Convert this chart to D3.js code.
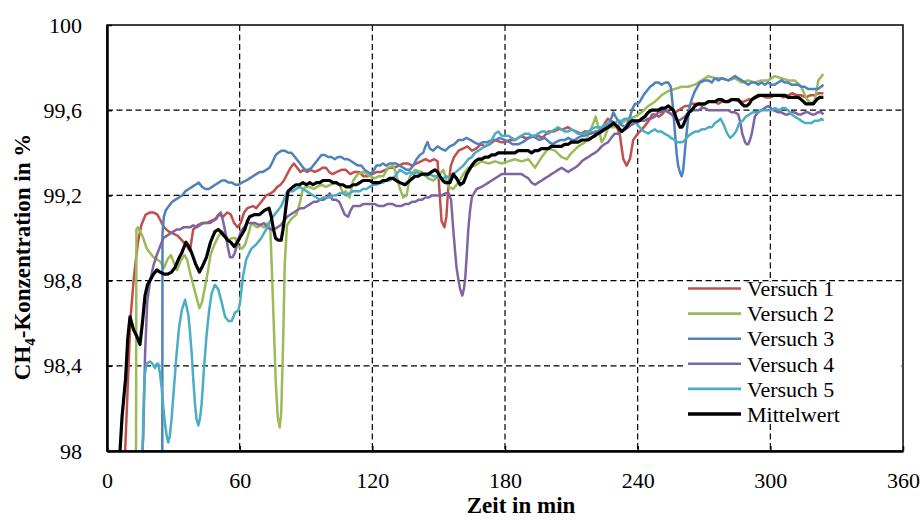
<!DOCTYPE html>
<html>
<head>
<meta charset="utf-8">
<script src="https://cdn.jsdelivr.net/npm/d3@7"></script>
<style>
  body { margin: 0; background: #fff; }
  svg text { font-family: "Liberation Serif", "Times New Roman", serif !important; fill: #000; }
</style>
</head>
<body>
<div id="chart"></div>
<script>
// time in min, CH4 concentration in %
const versuch1 = [[7.8,97.9],[8.6,98.1],[9.4,98.31],[10.6,98.62],[12.2,98.82],[14,98.98],[15.5,99.06],[17.5,99.11],[19.5,99.12],[21,99.12],[22.8,99.11],[24.3,99.08],[25.8,99.05],[28,99.03],[30,99.02],[32,99.01],[33.8,98.99],[35.5,98.97],[37.5,98.94],[39,99.04],[41,99.06],[43,99.07],[45,99.07],[47,99.08],[49,99.09],[50.5,99.11],[52.5,99.1],[54.5,99.12],[56,99.11],[57.5,99.07],[59,99.05],[60.5,99.07],[62,99.12],[63.5,99.14],[66,99.15],[67.5,99.14],[69,99.16],[70.5,99.18],[72,99.2],[74,99.21],[75.5,99.22],[77,99.24],[78.5,99.25],[80,99.27],[81.5,99.3],[83,99.33],[84.5,99.35],[86,99.33],[87.5,99.31],[89,99.32],[90.5,99.31],[92,99.32],[94,99.31],[96,99.32],[97.5,99.33],[99,99.33],[100.5,99.31],[102,99.3],[104,99.31],[106,99.32],[108,99.32],[110,99.3],[112,99.31],[114,99.31],[116,99.29],[118,99.29],[120,99.3],[122,99.31],[124,99.31],[126,99.32],[128,99.33],[130,99.33],[132,99.34],[134,99.35],[136,99.35],[138,99.34],[140,99.35],[142,99.36],[144,99.37],[146,99.36],[148,99.37],[149.5,99.36],[150.5,99.2],[151.3,99.08],[152.6,99.05],[153.5,99.1],[154.3,99.23],[155.5,99.34],[157,99.38],[159,99.41],[161,99.42],[163,99.43],[165,99.41],[167,99.42],[169,99.44],[171,99.43],[173,99.44],[175.5,99.46],[178,99.45],[180,99.45],[182,99.46],[184.5,99.46],[186,99.47],[187.5,99.48],[189,99.47],[191,99.47],[193.5,99.48],[195,99.48],[197,99.47],[199.5,99.5],[202,99.5],[204,99.51],[206,99.51],[208.5,99.52],[210,99.51],[212,99.5],[214.5,99.49],[216,99.5],[218,99.5],[220.5,99.49],[222,99.5],[224,99.52],[226.5,99.56],[228,99.55],[229.7,99.54],[231,99.51],[232,99.48],[233.5,99.37],[235,99.34],[236.5,99.37],[238,99.46],[240,99.49],[242,99.51],[243.5,99.53],[245,99.55],[246.5,99.58],[248,99.58],[249.5,99.57],[251,99.58],[252.5,99.6],[254,99.59],[255.5,99.58],[257,99.59],[258.5,99.6],[260,99.61],[261.5,99.62],[263,99.62],[264.5,99.63],[266,99.63],[267.5,99.63],[269,99.62],[270.5,99.63],[272,99.64],[273.5,99.64],[275,99.64],[276.5,99.63],[278,99.64],[280,99.64],[282,99.65],[284,99.65],[286,99.64],[288,99.64],[290,99.65],[292,99.65],[294,99.66],[296,99.67],[298,99.66],[300,99.66],[302,99.67],[304,99.67],[306,99.66],[308,99.67],[310,99.68],[312,99.67],[314,99.67],[316,99.66],[318,99.67],[320,99.67],[322,99.68],[324,99.68]];

const versuch2 = [[13.1,97.9],[13.3,99.04],[14,99.05],[15,99.03],[16,99.01],[17,98.98],[18,98.95],[19.5,98.93],[21,98.91],[22.5,98.9],[24,98.89],[25.8,98.86],[27.4,98.9],[28.9,98.92],[30.4,98.88],[31.7,98.85],[33.2,98.89],[35,98.92],[36.2,98.9],[37.5,98.84],[39,98.78],[40.5,98.72],[41.8,98.67],[43,98.7],[44.3,98.77],[45.6,98.84],[46.8,98.92],[48.6,98.97],[50.5,99.01],[52,99.03],[53.5,99.02],[55,98.99],[56.5,99.0],[58,99.0],[59.5,98.96],[61,98.95],[62.5,98.97],[64,99.02],[65.3,99.07],[66.5,99.06],[68,99.05],[69.5,99.06],[71,99.05],[72.8,99.07],[73.9,99.04],[75,98.72],[76.3,98.33],[77.2,98.16],[78.1,98.11],[78.8,98.18],[79.6,98.49],[80.4,98.88],[81.4,99.06],[83.4,99.09],[85.6,99.11],[87.1,99.16],[88.6,99.23],[90,99.24],[91.7,99.24],[93.5,99.23],[95,99.24],[97,99.25],[99,99.24],[101,99.25],[103.7,99.26],[105.2,99.25],[106.7,99.21],[108,99.22],[109.7,99.19],[111.3,99.27],[113.5,99.3],[115.8,99.31],[117.5,99.3],[119,99.29],[121,99.28],[123,99.29],[125,99.29],[127,99.33],[129.4,99.34],[130.5,99.31],[132.5,99.23],[134,99.19],[135.5,99.2],[137,99.29],[139.3,99.32],[142.3,99.31],[145.3,99.28],[147.6,99.27],[149.9,99.29],[152.1,99.32],[154.4,99.24],[156.6,99.23],[158.9,99.26],[161.2,99.3],[163.4,99.33],[166.4,99.34],[169.4,99.36],[172.5,99.35],[175.5,99.36],[178.5,99.35],[181.5,99.36],[184.5,99.37],[187.5,99.36],[190.6,99.37],[193.6,99.33],[196.6,99.38],[199.6,99.42],[202.6,99.41],[205.6,99.38],[207.9,99.37],[210.1,99.4],[213.2,99.43],[216.2,99.45],[218.4,99.5],[220,99.54],[221,99.57],[222.2,99.52],[223.7,99.45],[225,99.47],[226.7,99.52],[229.7,99.52],[232.8,99.54],[235.8,99.56],[238.8,99.57],[241.8,99.59],[244.8,99.62],[247.8,99.64],[250.8,99.67],[253.9,99.69],[256.9,99.7],[259.9,99.71],[262.9,99.71],[265.9,99.72],[269,99.74],[272,99.76],[275,99.75],[278,99.75],[281,99.74],[284,99.75],[287,99.73],[290,99.74],[293,99.73],[296,99.74],[299,99.74],[302,99.76],[305,99.75],[308,99.74],[311,99.74],[314,99.71],[316.5,99.65],[318.7,99.63],[320.2,99.65],[321.7,99.74],[323.2,99.76],[324,99.77]];

const versuch3 = [[25,97.9],[25.1,99.02],[25.7,99.1],[26.6,99.13],[28,99.15],[29.5,99.17],[31,99.18],[32.5,99.19],[34,99.2],[35.5,99.22],[37,99.23],[38.5,99.24],[40,99.25],[41.5,99.26],[43,99.24],[44.5,99.23],[46,99.23],[47.5,99.24],[49,99.25],[50.5,99.26],[52,99.27],[53.5,99.27],[55,99.26],[56.5,99.26],[58,99.25],[59.5,99.25],[61,99.26],[63,99.27],[64.5,99.28],[66,99.29],[67.5,99.3],[69,99.31],[70.5,99.31],[72,99.32],[73.5,99.33],[75,99.36],[76.3,99.39],[77.5,99.4],[79,99.41],[80.4,99.41],[82,99.4],[83.4,99.4],[85,99.38],[86.5,99.36],[88,99.34],[89.5,99.32],[91,99.32],[92.5,99.33],[94,99.35],[95.5,99.37],[97,99.39],[98.5,99.39],[100,99.38],[101.5,99.38],[103,99.37],[104.5,99.38],[106,99.38],[107.5,99.37],[109,99.37],[110.5,99.36],[112,99.35],[113.5,99.34],[115,99.34],[116.5,99.32],[118,99.31],[119.6,99.3],[120.8,99.32],[121.8,99.34],[123.3,99.34],[124.8,99.35],[126.3,99.34],[127.8,99.35],[129.3,99.35],[130.8,99.35],[132.4,99.34],[134,99.33],[135.5,99.32],[137,99.32],[138.5,99.34],[140,99.37],[141.5,99.39],[143,99.4],[144,99.43],[145,99.45],[146,99.42],[147.5,99.41],[149.5,99.43],[151,99.42],[153,99.41],[155,99.43],[157,99.44],[159,99.46],[161,99.46],[162.5,99.47],[164.5,99.46],[166,99.45],[168,99.44],[170,99.45],[172,99.45],[174,99.46],[176,99.46],[177.5,99.47],[180,99.46],[182,99.45],[183.5,99.44],[186,99.44],[188,99.45],[189.5,99.46],[192,99.48],[194,99.47],[195.5,99.46],[198,99.47],[200,99.45],[201.5,99.44],[203,99.45],[205,99.46],[207,99.46],[208.6,99.47],[210,99.46],[211.6,99.46],[213,99.47],[214.7,99.48],[216,99.48],[217.7,99.49],[219,99.49],[220.7,99.5],[222,99.5],[223.7,99.51],[225,99.52],[226.7,99.53],[228,99.56],[229,99.59],[230,99.57],[231.2,99.55],[232.8,99.53],[234.3,99.52],[235.5,99.54],[236.5,99.57],[237.8,99.61],[238.8,99.63],[240,99.63],[241,99.64],[242.6,99.67],[244.1,99.69],[245.6,99.71],[247,99.72],[248,99.73],[249.5,99.73],[250.8,99.72],[252.5,99.73],[253.9,99.73],[255,99.71],[256.1,99.6],[256.9,99.49],[257.6,99.4],[258.3,99.34],[259.1,99.31],[259.9,99.29],[260.6,99.32],[261.2,99.39],[261.8,99.46],[262.9,99.57],[263.6,99.62],[264.4,99.65],[265.9,99.69],[267,99.71],[268.2,99.73],[270.4,99.74],[272,99.74],[273.5,99.73],[275,99.75],[276.5,99.74],[278,99.75],[281,99.74],[282.5,99.75],[284,99.76],[285.5,99.75],[287,99.74],[288.5,99.73],[290,99.72],[291.5,99.73],[293,99.73],[294.5,99.72],[296,99.73],[297.5,99.72],[299,99.73],[300.5,99.72],[302,99.72],[303.5,99.73],[305,99.74],[306.5,99.73],[308,99.73],[309.5,99.72],[311,99.72],[312.5,99.72],[314,99.71],[315.5,99.71],[317,99.7],[318.5,99.7],[320,99.7],[321.5,99.7],[323,99.71],[324,99.72]];

const versuch4 = [[15.5,97.9],[16.4,98.07],[17.2,98.45],[18.2,98.7],[19.5,98.8],[21,98.87],[22.5,98.92],[24,98.96],[25.5,99.0],[27,99.01],[28.5,99.02],[30,99.03],[31.5,99.04],[33,99.04],[34.5,99.05],[36,99.05],[37.5,99.05],[39,99.06],[40.5,99.05],[42,99.06],[43.5,99.07],[45,99.07],[46.5,99.07],[48,99.08],[49.5,99.09],[50.5,99.11],[51.5,99.12],[52.5,99.08],[53.5,99.03],[54.6,98.96],[55.6,98.91],[56.8,98.91],[57.8,98.93],[59.3,98.99],[60.5,99.03],[62,99.05],[63.5,99.07],[65,99.07],[67,99.07],[69,99.06],[71,99.07],[72.5,99.05],[74,99.04],[75.5,99.04],[77,99.05],[78.5,99.06],[80,99.08],[81.5,99.1],[83,99.11],[84.5,99.12],[86,99.13],[87.5,99.14],[89,99.14],[90.5,99.15],[92,99.16],[93.5,99.17],[95,99.17],[96.5,99.18],[98,99.18],[99.5,99.19],[100.7,99.21],[102,99.18],[103.5,99.18],[105,99.17],[106.3,99.14],[107.5,99.11],[109,99.1],[110.2,99.13],[111.3,99.15],[113,99.15],[114.5,99.15],[116,99.16],[117.5,99.16],[119,99.16],[121,99.16],[123,99.15],[125,99.15],[127,99.16],[129,99.16],[131,99.15],[133,99.15],[135,99.16],[136.5,99.16],[138,99.17],[139.5,99.17],[141,99.18],[142.5,99.18],[144,99.19],[145.5,99.19],[147,99.2],[148.5,99.2],[150,99.2],[151.5,99.2],[153,99.21],[154.5,99.21],[155.6,99.18],[156.6,99.04],[157.4,98.94],[158.1,98.86],[159,98.8],[159.7,98.76],[160.7,98.73],[161.4,98.76],[162,98.81],[162.7,98.92],[163.4,99.04],[164.2,99.13],[165,99.19],[166,99.21],[167.2,99.23],[169.4,99.24],[171,99.25],[172.5,99.26],[174,99.27],[175.5,99.28],[177,99.29],[178.5,99.3],[180,99.3],[181.5,99.3],[183,99.3],[184.5,99.3],[186,99.3],[187.5,99.3],[189,99.29],[190.6,99.28],[192,99.26],[193.6,99.25],[195,99.26],[196.6,99.27],[198,99.28],[199.6,99.29],[201,99.3],[202.6,99.31],[204,99.32],[205.6,99.33],[207,99.32],[208.6,99.31],[210,99.32],[211.6,99.33],[213,99.34],[214.7,99.36],[216,99.37],[217.7,99.38],[219,99.39],[220.7,99.4],[222,99.41],[223.7,99.43],[225,99.44],[226.7,99.45],[228,99.47],[229.7,99.49],[231,99.49],[232.8,99.5],[234,99.51],[235.8,99.52],[237,99.53],[238.8,99.54],[240,99.55],[241.8,99.55],[243,99.55],[244.8,99.56],[246,99.56],[247.8,99.57],[249.3,99.59],[250.8,99.59],[252.4,99.6],[254,99.59],[255.4,99.58],[257,99.56],[258.4,99.55],[260,99.56],[261.4,99.57],[263,99.59],[264.4,99.6],[266,99.6],[267.4,99.6],[269,99.61],[270.4,99.61],[272,99.6],[273.5,99.6],[275,99.6],[276.5,99.6],[278,99.6],[279.5,99.6],[281,99.6],[282.5,99.59],[284,99.59],[285.5,99.58],[286.5,99.54],[287.3,99.49],[288.6,99.45],[289.3,99.44],[290,99.44],[290.8,99.46],[291.6,99.49],[292.3,99.53],[293,99.57],[294.5,99.59],[296,99.6],[297.5,99.61],[299,99.62],[300.2,99.61],[301.4,99.6],[303.6,99.59],[305,99.59],[306.7,99.58],[308,99.58],[309.7,99.59],[311,99.59],[312.7,99.58],[314,99.58],[315.7,99.59],[317,99.59],[318.7,99.58],[320,99.58],[321.5,99.59],[323.2,99.59],[324,99.58]];

const versuch5 = [[15.9,97.9],[16.4,98.15],[17,98.35],[17.9,98.41],[19.4,98.42],[20.5,98.41],[21.7,98.39],[22.5,98.41],[23.2,98.41],[24,98.36],[24.7,98.3],[25.5,98.2],[26.2,98.13],[27,98.07],[27.7,98.04],[28.4,98.07],[29.2,98.15],[30.3,98.3],[31.5,98.46],[32.6,98.58],[33.8,98.66],[35.3,98.71],[36.8,98.64],[37.6,98.55],[38.3,98.46],[39,98.34],[39.8,98.22],[40.5,98.15],[41.3,98.12],[42,98.15],[42.8,98.22],[43.8,98.38],[45,98.54],[46.2,98.66],[47.3,98.74],[48.8,98.78],[50.3,98.76],[51.8,98.7],[53.4,98.63],[54.9,98.61],[56.4,98.61],[57.9,98.65],[59.4,98.66],[60.2,98.7],[61.5,98.82],[63,98.9],[65.3,98.95],[67.5,98.97],[69.8,99.0],[72,99.04],[74.3,99.09],[76.6,99.12],[78.8,99.15],[80,99.18],[81.1,99.21],[82.5,99.22],[84.1,99.22],[85.5,99.23],[87.1,99.24],[88.5,99.23],[90.2,99.22],[91.7,99.21],[93.2,99.2],[94.7,99.19],[96.2,99.18],[97.7,99.19],[99.2,99.19],[100.7,99.19],[102.2,99.2],[103.7,99.2],[105.2,99.21],[106.7,99.21],[108.2,99.2],[109.7,99.21],[111.3,99.22],[112.8,99.22],[114.3,99.22],[115.8,99.23],[117.3,99.23],[118.8,99.24],[120.3,99.25],[121.8,99.25],[123.3,99.26],[124.8,99.26],[126.3,99.27],[127.8,99.27],[129.4,99.28],[131,99.3],[132.5,99.32],[134,99.31],[135.5,99.3],[137,99.31],[138.5,99.3],[140,99.31],[141.5,99.3],[143,99.3],[144.5,99.29],[146,99.3],[147.5,99.29],[149,99.29],[150.5,99.28],[152,99.28],[153.5,99.29],[155,99.28],[156.6,99.3],[158.9,99.32],[161.2,99.34],[163.4,99.37],[165,99.38],[166.4,99.4],[168,99.41],[169.4,99.42],[171,99.43],[172.5,99.44],[174,99.46],[175.5,99.49],[177,99.5],[178.5,99.48],[180,99.48],[181.5,99.48],[183,99.47],[184.5,99.46],[186,99.47],[187.5,99.48],[189,99.49],[190.6,99.49],[192,99.48],[193.6,99.48],[195,99.49],[196.6,99.5],[198,99.5],[199.6,99.49],[201,99.5],[202.6,99.51],[204,99.52],[205.6,99.51],[207,99.5],[208.6,99.5],[210,99.51],[211.6,99.5],[213,99.49],[214.7,99.49],[216,99.49],[217.7,99.5],[219,99.51],[220.7,99.52],[222,99.52],[223.7,99.52],[225,99.53],[226.7,99.54],[228,99.54],[229.7,99.54],[231,99.55],[232.8,99.55],[234,99.56],[235.8,99.56],[237,99.56],[238.8,99.55],[240,99.53],[241.8,99.51],[243,99.5],[244.8,99.49],[246,99.5],[247.8,99.51],[249,99.5],[250.8,99.5],[252,99.49],[253.9,99.48],[255,99.47],[256.9,99.46],[258,99.45],[259.1,99.45],[260.2,99.45],[261.4,99.46],[263,99.48],[264.4,99.49],[266,99.5],[267.4,99.5],[269,99.51],[270.4,99.51],[272,99.52],[273.5,99.52],[275,99.54],[276.5,99.55],[277.5,99.56],[279,99.53],[280.5,99.49],[281.8,99.47],[283,99.48],[284.5,99.5],[286,99.54],[287.5,99.55],[289,99.57],[290.5,99.58],[292,99.59],[294,99.59],[296,99.6],[298.5,99.6],[300.6,99.6],[302,99.61],[304,99.6],[305.5,99.61],[306.7,99.61],[308,99.6],[309.7,99.58],[311,99.57],[312.7,99.56],[314,99.55],[315.7,99.54],[317,99.54],[318.7,99.54],[320,99.55],[321.7,99.55],[323.2,99.56],[324,99.55]];

const mittelwert = [[5.6,97.95],[6.8,98.16],[8.4,98.34],[9.4,98.53],[10.4,98.63],[11.2,98.6],[12,98.57],[13.4,98.54],[14.9,98.5],[16,98.6],[17.2,98.73],[18.3,98.78],[19.4,98.8],[21,98.83],[22.5,98.85],[24,98.84],[25.8,98.83],[27.5,98.83],[29.2,98.84],[30.7,98.86],[32.3,98.9],[33.8,98.93],[35.7,98.98],[37,98.96],[38.3,98.93],[40,98.88],[41.8,98.84],[43.3,98.87],[45,98.91],[46.8,98.98],[48.8,99.03],[50.3,99.04],[51.4,99.03],[53,99.01],[54.5,98.99],[56,98.98],[57.5,98.96],[59,98.98],[60,99.0],[61.2,99.02],[62.3,99.04],[63.5,99.08],[64.5,99.1],[66.8,99.11],[69,99.11],[71.3,99.13],[73.3,99.14],[74.3,99.1],[75.3,99.04],[76.2,99.0],[77.3,98.99],[78.8,98.99],[79.6,99.04],[80.4,99.1],[81.2,99.17],[81.9,99.22],[84.1,99.24],[85.5,99.25],[87.1,99.25],[88.6,99.26],[90.2,99.25],[91.7,99.26],[93.2,99.25],[94.7,99.26],[96.2,99.26],[97.7,99.27],[99.2,99.27],[100.7,99.27],[102.2,99.26],[103.7,99.26],[105.2,99.25],[106.7,99.25],[108.2,99.24],[109.7,99.24],[111.3,99.25],[112.8,99.25],[114.3,99.26],[115.8,99.27],[117.3,99.27],[118.8,99.27],[120.3,99.26],[121.8,99.26],[123.3,99.26],[124.8,99.27],[126.3,99.27],[127.8,99.28],[129.4,99.28],[130.8,99.27],[132.5,99.26],[134.8,99.25],[137,99.27],[139.3,99.29],[140.8,99.29],[142.3,99.3],[143.8,99.3],[145.3,99.3],[146.8,99.31],[148.3,99.32],[149.5,99.31],[150.6,99.29],[151.8,99.27],[152.9,99.26],[154,99.26],[155.1,99.26],[155.9,99.28],[156.6,99.3],[157.3,99.29],[158.1,99.28],[159.7,99.25],[161.2,99.26],[162,99.28],[162.7,99.3],[163.8,99.32],[165,99.34],[166.5,99.36],[168,99.37],[169.5,99.37],[171,99.38],[172.5,99.38],[174,99.39],[175.5,99.39],[177,99.4],[178.5,99.4],[180,99.4],[181.5,99.4],[183,99.4],[184.5,99.4],[186,99.41],[187.5,99.41],[189,99.41],[190.5,99.41],[192,99.4],[193.5,99.41],[195,99.41],[196.5,99.42],[198,99.42],[199.5,99.42],[201,99.43],[202.6,99.43],[204,99.43],[205.6,99.43],[207,99.44],[208.6,99.44],[210,99.45],[211.6,99.45],[213,99.45],[214.7,99.46],[216,99.46],[217.7,99.46],[219,99.47],[220.7,99.48],[222,99.49],[223.7,99.5],[225,99.51],[226.7,99.52],[228,99.53],[229,99.54],[230,99.53],[231.2,99.52],[232.8,99.5],[234,99.51],[235,99.52],[236.2,99.54],[237.3,99.55],[238.5,99.55],[239.5,99.55],[240.7,99.55],[241.8,99.56],[243.3,99.57],[244.8,99.59],[246.3,99.6],[247.8,99.6],[249.3,99.6],[250.8,99.61],[252.4,99.61],[253.9,99.62],[255,99.61],[256.1,99.6],[256.9,99.58],[257.6,99.56],[258.3,99.54],[259.1,99.52],[259.9,99.52],[260.6,99.53],[261.4,99.55],[262.2,99.57],[263.3,99.59],[264.4,99.6],[265.9,99.62],[267.4,99.63],[268.9,99.63],[270.4,99.63],[272,99.64],[273.5,99.64],[275,99.64],[276.5,99.65],[278,99.65],[279.5,99.64],[281,99.64],[282.5,99.65],[284,99.65],[285.5,99.65],[287,99.63],[288.2,99.62],[289.3,99.62],[290.5,99.63],[291.6,99.65],[293,99.66],[294.6,99.67],[296,99.67],[297.6,99.67],[299,99.67],[300.6,99.67],[302,99.67],[303.6,99.67],[305,99.67],[306.7,99.67],[308,99.66],[309.7,99.66],[311,99.66],[312.7,99.66],[314,99.65],[315,99.64],[316,99.63],[317.2,99.63],[318.5,99.63],[319.5,99.63],[321,99.65],[322.2,99.66],[323.2,99.66],[324,99.66]];

const seriesNames = ["Versuch 1", "Versuch 2", "Versuch 3", "Versuch 4", "Versuch 5", "Mittelwert"];
const seriesData = [versuch1, versuch2, versuch3, versuch4, versuch5, mittelwert];
const seriesColors = ["#C0504D", "#9BBB59", "#4F81BD", "#8064A2", "#4BACC6", "#000000"];
const xTicks = [0, 60, 120, 180, 240, 300, 360];
const yTicks = [98, 98.4, 98.8, 99.2, 99.6, 100];

const W = 920, H = 520;
const margin = { top: 25, right: 17, bottom: 69, left: 107 };
const width = W - margin.left - margin.right,
    height = H - margin.top - margin.bottom;
const serif = '"Liberation Serif", "Times New Roman", serif';

const svg = d3.select("#chart")
    .append("svg")
    .attr("width", W)
    .attr("height", H);

svg.append("rect").attr("width", W).attr("height", H).attr("fill", "#fff");

const g = svg.append("g")
    .attr("transform", `translate(${margin.left},${margin.top})`);

const x = d3.scaleLinear().domain([0, 360]).range([0, width]);
const y = d3.scaleLinear().domain([98, 100]).range([height, 0]);

const fmt = d => Number.isInteger(d) ? String(d) : d3.format(".1f")(d).replace(".", ",");

// dashed grid
g.append("g")
    .selectAll("line")
    .data(yTicks.filter(d => d > 98 && d < 100))
    .join("line")
    .attr("x1", 0).attr("x2", width)
    .attr("y1", d => y(d)).attr("y2", d => y(d))
    .attr("stroke", "#000").attr("stroke-width", 1.2)
    .attr("stroke-dasharray", "6,3.5");

g.append("g")
    .selectAll("line")
    .data(xTicks.filter(d => d > 0 && d < 360))
    .join("line")
    .attr("x1", d => x(d)).attr("x2", d => x(d))
    .attr("y1", 0).attr("y2", height)
    .attr("stroke", "#000").attr("stroke-width", 1.2)
    .attr("stroke-dasharray", "6,3.5");

// series
svg.append("defs").append("clipPath").attr("id", "clip")
    .append("rect").attr("width", width).attr("height", height);

const line = d3.line()
    .x(d => x(d[0]))
    .y(d => y(d[1]));

g.append("g")
    .attr("clip-path", "url(#clip)")
    .selectAll("path")
    .data(seriesData)
    .join("path")
    .attr("d", line)
    .attr("fill", "none")
    .attr("stroke", (d, i) => seriesColors[i])
    .attr("stroke-width", (d, i) => i === 5 ? 3.2 : 2.5)
    .attr("stroke-linejoin", "round");

// frame
g.append("rect")
    .attr("width", width).attr("height", height)
    .attr("fill", "none").attr("stroke", "#000").attr("stroke-width", 1.5);

// axes
const xAxis = g.append("g")
    .attr("transform", `translate(0,${height})`)
    .call(d3.axisBottom(x).tickValues(xTicks).tickSizeInner(-5).tickSizeOuter(0).tickPadding(21).tickFormat(fmt));
const yAxis = g.append("g")
    .call(d3.axisLeft(y).tickValues(yTicks).tickSizeInner(-5).tickSizeOuter(0).tickPadding(25).tickFormat(fmt));

[xAxis, yAxis].forEach(a => {
    a.attr("font-family", null).attr("font-size", null);
    a.select(".domain").attr("stroke", "#000").attr("stroke-width", 2.5);
    a.selectAll(".tick line").attr("stroke", "#000").attr("stroke-width", 1.5);
    a.selectAll(".tick text")
        .style("font-family", serif)
        .style("font-size", "22px")
        .attr("fill", "#000");
});

// axis titles
svg.append("text")
    .attr("x", 521)
    .attr("y", 513)
    .attr("text-anchor", "middle")
    .style("font-size", "23px")
    .style("font-weight", "bold")
    .text("Zeit in min");

const yt = svg.append("text")
    .attr("transform", `translate(30,${margin.top + height / 2 + 19}) rotate(-90)`)
    .attr("text-anchor", "middle")
    .style("font-size", "23px")
    .style("font-weight", "bold");
yt.append("tspan").text("CH");
yt.append("tspan").attr("dy", 5).style("font-size", "15px").text("4");
yt.append("tspan").attr("dy", -5).text("-Konzentration in %");

// legend
const legend = svg.append("g");
legend.append("rect")
    .attr("x", 686).attr("y", 282).attr("width", 215).attr("height", 140)
    .attr("fill", "#fff");
const rows = legend.selectAll("g.row")
    .data(seriesNames)
    .join("g")
    .attr("class", "row")
    .attr("transform", (d, i) => `translate(688,${288.5 + i * 25.1})`);
rows.append("line")
    .attr("x1", 0).attr("x2", 53)
    .attr("stroke", (d, i) => seriesColors[i])
    .attr("stroke-width", (d, i) => i === 5 ? 3.4 : 2.6);
rows.append("text")
    .attr("x", 59).attr("dy", "0.35em")
    .style("font-size", "22px")
    .text(d => d);
</script>
</body>
</html>
